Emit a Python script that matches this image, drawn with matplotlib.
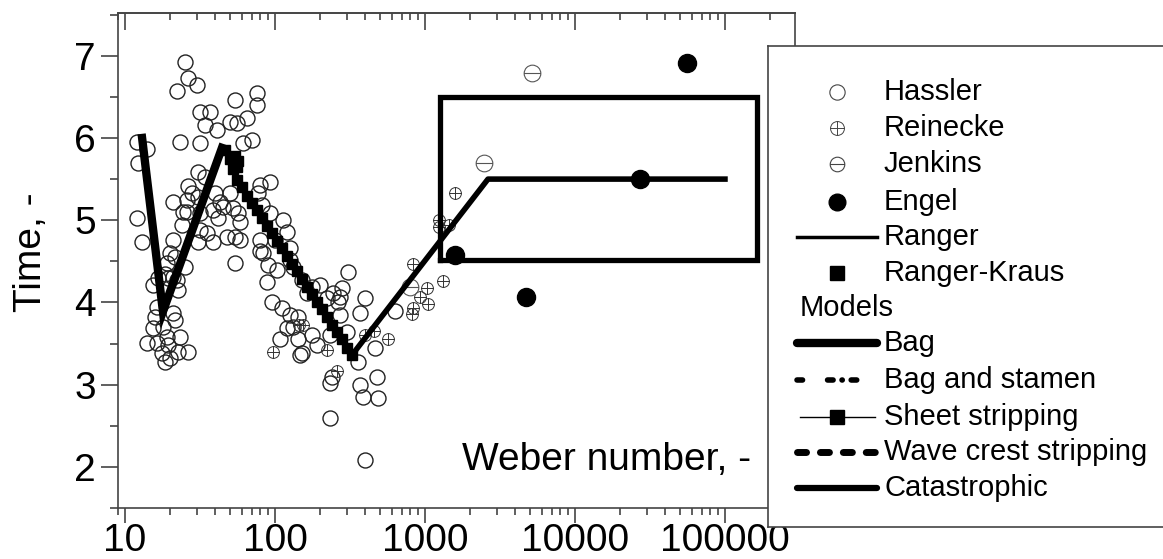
import matplotlib.pyplot as plt
from matplotlib.path import Path
from matplotlib.ticker import LogLocator, MultipleLocator, FuncFormatter, NullFormatter

plt.rcParams['font.family'] = ['Liberation Sans', 'DejaVu Sans']

# --- data (Weber number, time) ---
hassler_we = [12.0, 12.2, 14.0, 12.0, 13.0, 15.4, 16.6, 18.5, 19.4, 20.9, 22.2, 22.6, 19.1, 16.3,
              15.8, 15.4, 17.9, 20.9, 21.5, 14.0, 16.3, 19.1, 23.3, 19.4, 20.0, 17.6, 26.3, 22.6,
              18.5, 20.0, 21.5, 20.9, 24.0, 24.4, 20.9, 25.1, 25.9, 26.3, 28.0, 30.7, 30.7, 34.1,
              25.1, 26.3, 22.2, 30.2, 23.3, 31.6, 36.9, 34.1, 31.6, 41.0, 54.1, 50.1, 55.8, 65.0,
              75.9, 75.9, 70.3, 61.2, 39.8, 25.9, 31.6, 31.6, 35.2, 30.7, 38.6, 41.7, 45.0, 47.9,
              54.1, 58.4, 54.1, 52.5, 50.1, 38.6, 43.0, 56.6, 58.4,
              79.4, 92.6, 77.1, 81.8, 92.6, 113, 120, 100, 126, 126, 83.2, 89.8, 103, 88.5,
              151, 177, 200, 307, 280, 271, 398, 244, 79.4, 79.4, 132, 95.5, 111, 126, 132,
              108, 147, 142, 120, 151, 191, 177, 142, 163, 222, 263, 271, 369, 302, 357, 233,
              240, 369, 386, 479, 486, 233, 398, 464, 233, 631]
hassler_t = [5.95, 5.70, 5.86, 5.03, 4.73, 4.21, 4.30, 4.34, 4.30, 4.31, 4.27, 4.15, 4.48, 3.95,
             3.82, 3.69, 3.70, 3.87, 3.79, 3.51, 3.51, 3.58, 3.58, 3.48, 3.33, 3.39, 3.40, 3.40,
             3.28, 4.60, 4.55, 4.76, 4.94, 5.10, 5.22, 4.43, 5.25, 5.41, 5.33, 5.28, 5.59, 5.53,
             6.92, 6.73, 6.57, 6.65, 5.95, 6.31, 6.31, 6.16, 5.94, 6.10, 6.46, 6.19, 6.18, 6.24,
             6.55, 6.40, 5.98, 5.94, 5.33, 5.10, 5.09, 4.88, 4.85, 4.73, 4.74, 5.03, 5.16, 4.80,
             4.79, 4.98, 4.48, 5.15, 5.33, 5.13, 5.22, 5.09, 4.76,
             5.43, 5.46, 5.33, 5.19, 5.09, 5.00, 4.86, 4.76, 4.66, 4.52, 4.60, 4.46, 4.40, 4.25,
             4.27, 4.19, 4.21, 4.37, 4.18, 4.07, 4.06, 4.12, 4.76, 4.62, 4.43, 4.00, 3.93, 3.85, 3.70,
             3.55, 3.36, 3.82, 3.69, 3.39, 3.48, 3.61, 3.55, 4.12, 4.06, 4.00, 3.85, 3.87, 3.64, 3.28, 3.02,
             3.09, 3.00, 2.85, 3.09, 2.84, 2.60, 2.08, 3.45, 3.61, 3.89]

reinecke_we = [1585, 1240, 1240, 1445, 832, 1318, 1031, 926, 1047, 832, 817, 567,
               97, 145, 154, 222, 259, 398, 457]
reinecke_t = [5.33, 5.00, 4.92, 4.94, 4.47, 4.26, 4.18, 4.07, 3.98, 3.93, 3.86, 3.56,
              3.40, 3.73, 3.73, 3.42, 3.17, 3.61, 3.65]

jenkins_we = [5170, 2470, 794]
jenkins_t = [6.79, 5.69, 4.19]

engel_we = [55800, 27100, 1585, 4710]
engel_t = [6.91, 5.50, 4.58, 4.07]

ranger_kraus_we = [46.5, 50.1, 54.1, 56.6, 52.5, 55.8]
ranger_kraus_t = [5.85, 5.75, 5.78, 5.72, 5.62, 5.65]

bag_we = [13.0, 17.9, 44.3]
bag_t = [6.0, 3.89, 5.88]

sheet_we = [55.8, 60.3, 65.0, 70.3, 75.9, 81.8, 88.5, 95.5, 103, 111, 120, 130,
            140, 151, 163, 177, 191, 206, 222, 240, 259, 280, 302, 326]
sheet_t = [5.49, 5.40, 5.30, 5.21, 5.12, 5.03, 4.93, 4.84, 4.75, 4.66, 4.56, 4.47,
           4.38, 4.29, 4.19, 4.10, 4.01, 3.92, 3.82, 3.73, 3.64, 3.55, 3.45, 3.36]

catastrophic_we = [326, 2630, 100000]
catastrophic_t = [3.36, 5.5, 5.5]

box_we = [1259, 163000, 163000, 1259, 1259]
box_t = [4.52, 4.52, 6.5, 6.5, 4.52]

# circle markers with a cross / a bar inside
circ = Path.unit_circle()
oplus = Path.make_compound_path(circ, Path([[-1, 0], [1, 0], [0, -1], [0, 1]],
                                           [Path.MOVETO, Path.LINETO, Path.MOVETO, Path.LINETO]))
ominus = Path.make_compound_path(circ, Path([[-1, 0], [1, 0]], [Path.MOVETO, Path.LINETO]))

edge = '#444444'

fig = plt.figure(figsize=(11.63, 5.59), dpi=100)
ax = fig.add_axes([118 / 1163, 51 / 559, 677 / 1163, 495 / 559])

ax.plot(hassler_we, hassler_t, ls='none', marker='o', ms=10.8, mfc='none', mec='#222222', mew=1.0, zorder=2)
ax.plot(reinecke_we, reinecke_t, ls='none', marker=oplus, ms=8.5, mfc='none', mec='#333333', mew=0.7, zorder=3)
ax.plot(jenkins_we, jenkins_t, ls='none', marker=ominus, ms=12, mfc='none', mec='#555555', mew=0.8, zorder=3)
ax.plot(engel_we, engel_t, ls='none', marker='o', ms=13, color='black', zorder=4)

ax.plot(bag_we, bag_t, color='black', lw=6, solid_joinstyle='miter', zorder=4)
ax.plot(sheet_we, sheet_t, color='black', lw=1, marker='s', ms=6.5, zorder=4)
ax.plot(ranger_kraus_we, ranger_kraus_t, ls='none', marker='s', ms=7.5, color='black', zorder=4)
ax.plot(catastrophic_we, catastrophic_t, color='black', lw=4, zorder=4)
ax.plot(box_we, box_t, color='black', lw=3.8, solid_joinstyle='miter', zorder=4)

ax.set_xscale('log')
ax.set_xlim(8.98, 2.93e5)
ax.set_ylim(1.5, 7.52)
ax.xaxis.set_major_locator(LogLocator(base=10))
ax.xaxis.set_minor_locator(LogLocator(base=10, subs=range(2, 10)))
ax.xaxis.set_major_formatter(FuncFormatter(lambda v, p: f'{v:.0f}'))
ax.xaxis.set_minor_formatter(NullFormatter())
ax.yaxis.set_major_locator(MultipleLocator(1))
ax.yaxis.set_minor_locator(MultipleLocator(0.5))

ax.tick_params(axis='both', which='both', direction='out', color=edge, width=1.2, labelsize=28, labelcolor='black')
ax.tick_params(axis='x', which='major', length=11, pad=0)
ax.tick_params(axis='x', which='minor', length=5)
ax.tick_params(axis='y', which='major', length=12, pad=4)
ax.tick_params(axis='y', which='minor', length=6)
for sp in ax.spines.values():
    sp.set_color(edge)
    sp.set_linewidth(1.2)

top = ax.secondary_xaxis('top')
top.xaxis.set_major_locator(LogLocator(base=10))
top.xaxis.set_minor_locator(LogLocator(base=10, subs=range(2, 10)))
top.tick_params(axis='x', which='both', direction='in', color=edge, width=1.2, labeltop=False)
top.tick_params(axis='x', which='major', length=12)
top.tick_params(axis='x', which='minor', length=5)
top.spines['top'].set_color(edge)
top.spines['top'].set_linewidth(1.2)

ax.set_ylabel('Time, -', fontsize=28, va='center')
ax.yaxis.set_label_coords(-0.1285, 0.517)
ax.set_xlabel('Weber number, -', fontsize=28, va='center')
ax.xaxis.set_label_coords(0.721, 0.097)

# --- legend box, drawn by hand in pixel-like coordinates ---
lg = fig.add_axes([768 / 1163, 32 / 559, 402 / 1163, 481 / 559])
lg.set_zorder(5)
lg.set_facecolor('white')
for sp in lg.spines.values():
    sp.set_color(edge)
    sp.set_linewidth(1.2)
lg.set_xticks([])
lg.set_yticks([])

hx = [797, 877]
mx = 837
tx = 884
fs = 21

lg.plot([mx], [92], marker='o', ms=11, mfc='none', mec=edge, mew=0.8)
lg.plot([mx], [128], marker=oplus, ms=10, mfc='none', mec=edge, mew=0.7)
lg.plot([mx], [164], marker=ominus, ms=10.5, mfc='none', mec=edge, mew=0.8)
lg.plot([mx], [202], marker='o', ms=12, color='black')
lg.plot(hx, [237, 237], color='black', lw=2.5)
lg.plot([mx], [273], marker='s', ms=10, color='black')
lg.plot(hx, [343, 343], color='black', lw=6, solid_capstyle='round')
lg.plot(hx, [380, 380], color='black', lw=4, dash_capstyle='round', dashes=(1, 4.5, 1, 1.6, 0.05, 1.6))
lg.plot([800, 875], [417, 417], color='black', lw=1)
lg.plot([mx], [417], marker='s', ms=9.5, color='black')
lg.plot(hx, [452, 452], color='black', lw=5, dash_capstyle='round', dashes=(1.3, 2.0))
lg.plot(hx, [488, 488], color='black', lw=4.5, solid_capstyle='round')

labels = ['Hassler', 'Reinecke', 'Jenkins', 'Engel', 'Ranger', 'Ranger-Kraus']
rows = [92, 128, 164, 202, 237, 273]
for lab, yy in zip(labels, rows):
    lg.text(tx, yy, lab, fontsize=fs, va='center', ha='left')
lg.text(800, 308, 'Models', fontsize=fs, va='center', ha='left')
model_labels = ['Bag', 'Bag and stamen', 'Sheet stripping', 'Wave crest stripping', 'Catastrophic']
model_rows = [343, 380, 417, 452, 488]
for lab, yy in zip(model_labels, model_rows):
    lg.text(tx, yy, lab, fontsize=fs, va='center', ha='left')

lg.set_xlim(768, 1170)
lg.set_ylim(527, 46)

fig.savefig('out.png', dpi=100)
